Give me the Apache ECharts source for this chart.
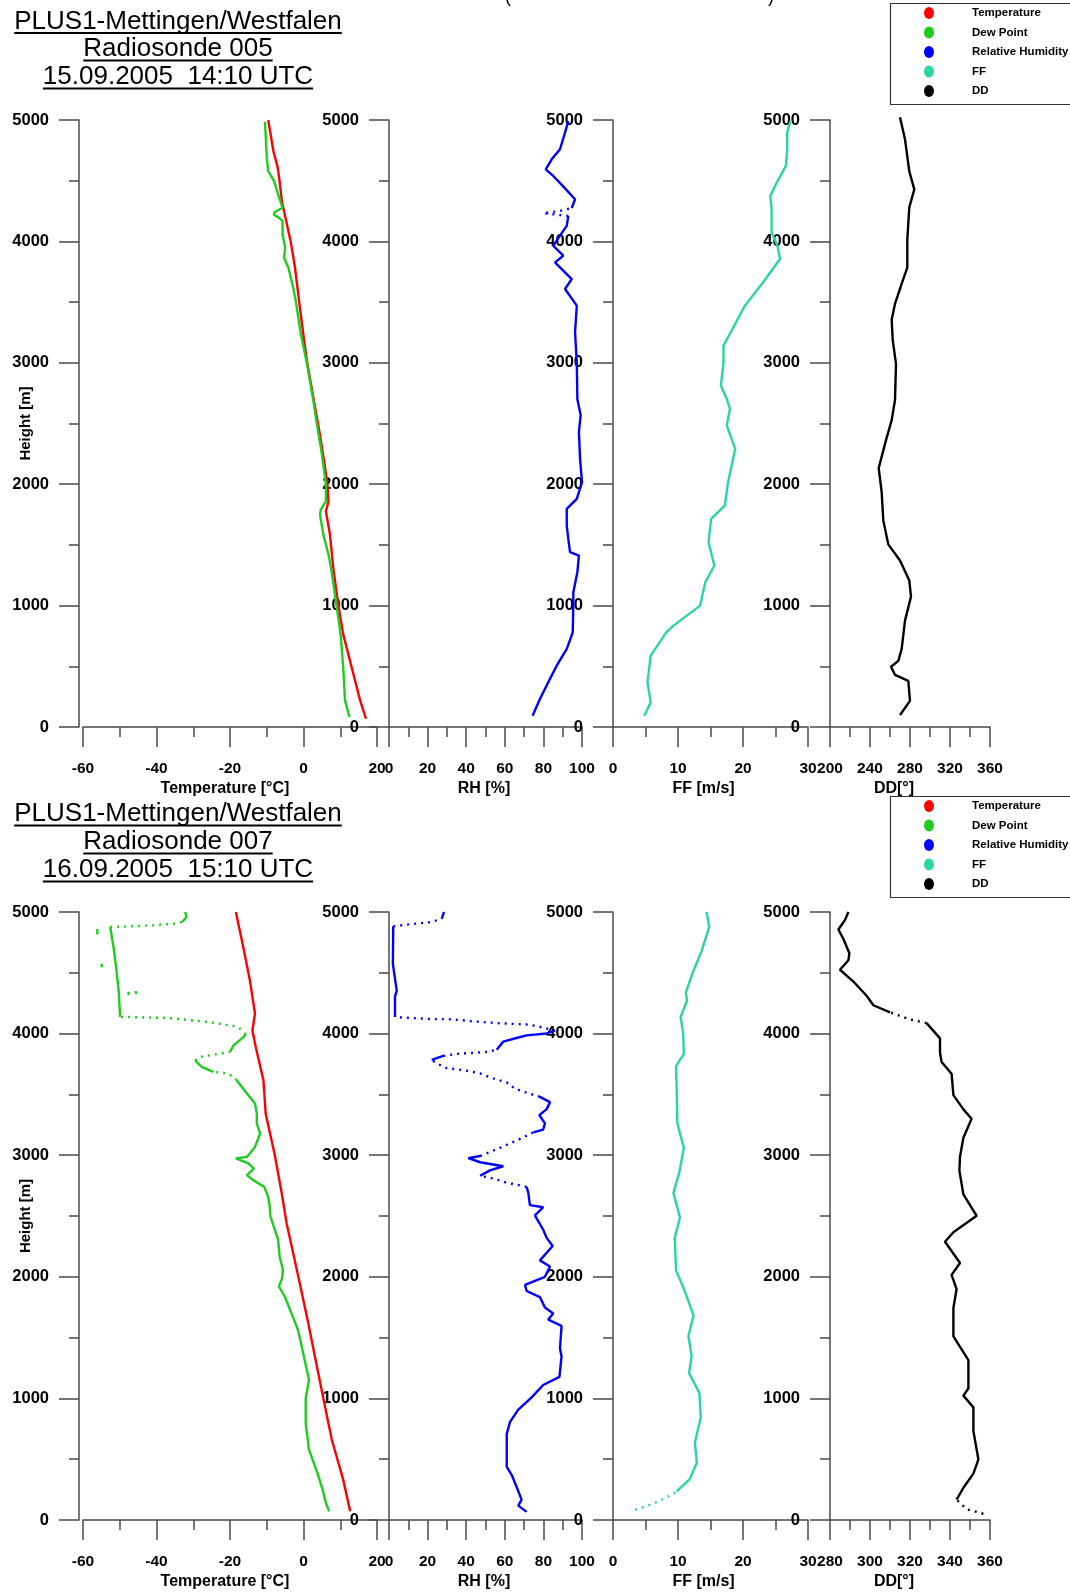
<!DOCTYPE html>
<html><head><meta charset="utf-8">
<script src="https://cdn.jsdelivr.net/npm/echarts@6/dist/echarts.min.js"></script>
<style>html,body{margin:0;padding:0;background:#fff}#c{width:1070px;height:1592px}</style>
</head><body><div id="c"></div>
<script>
// ---------------- DATA ----------------
// Panel 1 : Radiosonde 005, 15.09.2005 14:10 UTC   ([value, height m])
const titles1 = ['PLUS1-Mettingen/Westfalen', 'Radiosonde 005', '15.09.2005  14:10 UTC'];
const temp1 = [[17.0,68],[15.4,219],[13.1,492],[10.8,765],[9.5,1000],[8.1,1311],[7.2,1585],[6.1,1776],[6.8,1858],[6.5,2000],[5.9,2131],[4.5,2404],[2.9,2678],[1.0,3000],[-0.05,3233],[-1.2,3508],[-2.3,3783],[-3.5,4000],[-5.9,4332],[-6.4,4470],[-7.0,4607],[-8.2,4745],[-9.6,5000]];
const dew1 = [[12.5,82],[11.3,219],[10.8,492],[10.1,765],[9.0,1000],[7.5,1311],[6.8,1421],[5.4,1585],[4.5,1749],[4.7,1790],[6.1,1858],[6.1,2000],[4.9,2268],[3.4,2541],[2.7,2684],[0.9,3000],[-0.7,3233],[-2.1,3508],[-2.8,3618],[-4.1,3783],[-5.3,3865],[-5.0,3948],[-5.7,4058],[-5.7,4168],[-6.9,4200],[-8.0,4218],[-7.9,4240],[-5.7,4277],[-6.9,4387],[-8.0,4497],[-9.6,4580],[-10.0,4690],[-10.3,4882],[-10.5,4986]];
const rh1 = [[74.4,93],[78.2,231],[82.5,368],[86.9,505],[92.1,643],[95.2,780],[95.5,1000],[95.5,1110],[97.6,1275],[98.4,1412],[93.8,1440],[92.9,1549],[92.1,1659],[92.1,1797],[97.3,1879],[100,2016],[99,2209],[98.4,2429],[99.3,2570],[97.6,2700],[97.3,3000],[96.4,3251],[97.3,3471],[91.2,3608],[94.7,3690],[86,3827],[90.3,3882],[85.1,3964],[88.6,4047],[92.1,4128],[92.9,4210],null,[94.7,4275],[96.4,4347],[90.0,4457],[85.1,4539],[81.2,4594],[84.3,4676],[88.6,4759],[91.2,4896],[92.9,4992]];
const rh1Sparse = [[92.9,4210],[80,4232],[88.6,4251],[94.7,4275]];
const ff1 = [[4.8,93],[5.8,203],[5.3,368],[5.8,588],[8.2,780],[9.3,835],[13.4,1000],[14.2,1192],[15.6,1330],[14.7,1522],[15.1,1714],[17.2,1824],[17.7,2016],[18.8,2291],[17.5,2484],[18.0,2621],[17.5,2703],[16.6,2811],[17.0,3003],[17.0,3141],[19.2,3361],[20.3,3471],[23.1,3663],[25.7,3855],[25.3,3964],[24.4,4074],[24.4,4265],[24.2,4375],[25.2,4485],[26.6,4622],[26.8,4759],[26.8,4896],[27.3,4992]];
const dd1 = [[270,99],[280,215],[278.3,380],[265,430],[261,496],[268.3,545],[271.7,645],[275,876],[281,1074],[279.3,1206],[270,1371],[258.3,1504],[253.3,1702],[251.7,1933],[248.7,2132],[256,2363],[261.7,2528],[265,2693],[266,2991],[262.7,3189],[261.7,3354],[265,3486],[271.7,3652],[277.3,3784],[277.3,4015],[279.3,4280],[284.3,4428],[279.3,4577],[275,4841],[270,5023]];

// Panel 2 : Radiosonde 007, 16.09.2005 15:10 UTC
const titles2 = ['PLUS1-Mettingen/Westfalen', 'Radiosonde 007', '16.09.2005  15:10 UTC'];
const temp2 = [[12.7,71],[10.8,332],[7.7,660],[5.4,1000],[3.1,1345],[1.3,1619],[-1.4,2000],[-4.6,2441],[-6.0,2700],[-7.8,3000],[-10.3,3342],[-10.9,3616],[-13.0,3890],[-13.9,4027],[-13.2,4164],[-14.6,4438],[-16.4,4712],[-18.4,5000]];
const dew2 = [[7.0,71],[6.1,140],[5.2,249],[3.8,386],[1.5,578],[0.6,797],[0.6,1000],[1.5,1153],[0.1,1345],[-1.5,1564],[-3.3,1701],[-5.1,1838],[-6.7,1921],[-5.8,1989],[-5.6,2058],[-6.5,2167],[-6.9,2304],[-9.0,2496],[-9.2,2578],[-9.6,2658],[-10.7,2740],[-13.7,2795],[-15.4,2836],[-13.5,2890],[-15.0,2932],[-18.4,2973],[-15.4,2986],[-13.2,3068],[-11.8,3178],[-12.7,3260],[-12.7,3342],[-13.2,3425],[-15.4,3507],[-18.2,3616],null,
  [-24.5,3685],[-27.7,3726],[-29.1,3767],[-29.5,3780],null,
  [-20.0,3849],[-19.1,3901],[-16.3,3973],[-15.7,3995],null,
  [-49.9,4137],[-50.3,4356],[-51.0,4548],[-51.7,4712],[-52.6,4877],null,
  [-33.0,4918],[-31.8,4959],[-32.2,5000],null,
  [-56.1,4815],[-56.1,4860],null,[-54.9,4545],[-54.9,4575],null,[-47.6,4315],[-47.6,4345],null,[-45.6,4325],[-45.6,4350]];
const dew2Sparse = [[-18.2,3616],[-19.1,3650],[-21.8,3677],[-24.5,3685],null,
  [-29.5,3780],[-28.2,3808],[-25.5,3822],[-22.7,3836],[-20.0,3849],null,
  [-15.7,3995],[-17.3,4041],[-19.1,4063],[-24.5,4088],[-27.7,4101],[-30.9,4110],[-35.4,4125],[-38.2,4130],[-43.6,4132],[-47.6,4137],[-49.9,4137],null,
  [-52.6,4877],[-45.4,4885],[-40.9,4890],[-35.4,4904],[-33.0,4918]];
const rh2 = [[71.3,67],[67,118],[68.7,168],[66.2,269],[63.6,370],[61,437],[61,572],[61,706],[62.7,807],[67,908],[73.9,1009],[79.9,1110],[88.3,1177],[89.4,1345],[88.6,1412],[89.4,1597],[82.5,1648],[85.1,1698],[80.8,1748],[78.2,1833],[71.3,1883],[70.5,1933],[80.8,2000],[83.4,2085],[78.2,2135],[84.8,2253],[81.7,2320],[79.9,2387],[75.6,2505],[79.9,2572],[73,2589],[72.2,2690],[71.3,2740],null,
  [47.2,2831],[52.3,2875],[59.2,2909],[47.2,2942],[41.1,2976],[47.2,2993],null,
  [74.8,3188],[79.9,3211],[80.8,3262],[77.9,3329],[81.7,3379],[83.4,3436],[78.2,3480],null,
  [22.1,3783],[28.1,3816],null,
  [55.8,3867],[59.2,3934],[67,3968],[71.3,3985],[81.7,4001],[86,4025],null,
  [3.1,4136],[3.1,4153],[3.1,4304],[4.0,4354],[2.0,4573],[2.2,4882],null,
  [27.3,4943],[28.5,5000]];
const rh2Sparse = [[71.3,2740],[61,2774],[54,2808],[47.2,2831],null,
  [47.2,2993],[57.5,3060],[67,3127],[74.8,3188],null,
  [78.2,3480],[71.3,3514],[65.3,3547],[61,3598],[54,3631],[47.2,3672],[38.5,3700],[29.9,3716],[25.5,3749],[22.1,3783],null,
  [28.1,3816],[35.1,3833],[42,3840],[50.6,3850],[55.8,3867],null,
  [86,4025],[81.7,4042],[76.5,4062],[71.3,4075],[66.2,4079],[57.5,4085],[50.6,4092],[42.8,4102],[36.8,4112],[29.9,4119],[22.1,4119],[10.9,4129],[3.1,4136],null,
  [2.2,4882],[12.6,4902],[21.2,4916],[27.3,4943]];
const ff2 = [[9.8,235],[11.8,336],[12.9,470],[12.6,639],[13.5,841],[13.3,1042],[11.7,1210],[12.1,1345],[11.6,1513],[12.4,1681],[10.8,1917],[9.7,2051],[9.5,2320],[10.3,2488],[9.3,2690],[10.2,2858],[10.9,3060],[9.9,3262],[9.8,3531],[9.7,3732],[10.9,3833],[10.8,4001],[10.4,4136],[11.4,4270],[11.2,4338],[12.3,4506],[13.6,4674],[14.8,4876],[14.4,5000]];
const ff2Sparse = [[3.4,84],[6.2,134],[8.8,202],[9.8,235]];
const dd2 = [[343.3,167],[346.7,265],[351.7,381],[354.2,498],[351.7,732],[351.7,926],[346.7,1023],[349.2,1082],[349.2,1315],[341.7,1510],[341.7,1743],[343.3,1899],[340.8,2016],[345,2113],[337.5,2288],[341.7,2366],[353.3,2502],[346.7,2677],[344.7,2872],[345,2988],[346.7,3144],[350.8,3300],[346.7,3377],[341.7,3494],[340.8,3669],[335.8,3767],[335,3844],[335,3961],[328.3,4086],null,
  [310,4175],[301.7,4233],[298.3,4311],[291.7,4428],[285,4525],[289.2,4603],[289.7,4661],[286.7,4778],[284.2,4856],[287.5,4934],[289.2,5000]];
const dd2Sparse = [[356.7,51],[348.3,89],[343.3,167],null,[328.3,4086],[320,4117],[310,4175]];

// axis ranges / ticks
const heightRange = {min: 0, max: 5000, interval: 1000};
const tempRange = {min: -60, max: 20, interval: 20};
const rhRange = {min: 0, max: 100, interval: 20};
const ffRange = {min: 0, max: 30, interval: 10};
const dd1Range = {min: 200, max: 360, interval: 40};
const dd2Range = {min: 280, max: 360, interval: 20};
const legendNames = ['Temperature', 'Dew Point', 'Relative Humidity', 'FF', 'DD'];
const axisNames = ['Temperature [°C]', 'RH [%]', 'FF [m/s]', 'DD[°]'];

// ---------------- CHART ----------------
const FONT = '"Liberation Sans", Arial, Helvetica, sans-serif';
const AX = '#4a4a4a';
const COLORS = {Temperature:'#ff0000', 'Dew Point':'#1fcc1f', 'Relative Humidity':'#0000ff', FF:'#2bd4a4', DD:'#000000'};

const panels = [
  {top: 120, height: 607, titleY: [21.5, 49, 77], legendTop: 3, ranges: [tempRange, rhRange, ffRange, dd1Range],
   titles: titles1,
   data: [[['Temperature', temp1, false], ['Dew Point', dew1, false]], [['Relative Humidity', rh1, false], ['Relative Humidity', rh1Sparse, true]], [['FF', ff1, false]], [['DD', dd1, false]]]},
  {top: 912, height: 608, titleY: [814, 842, 870], legendTop: 796, ranges: [tempRange, rhRange, ffRange, dd2Range],
   titles: titles2,
   data: [[['Temperature', temp2, false], ['Dew Point', dew2, false], ['Dew Point', dew2Sparse, true]], [['Relative Humidity', rh2, false], ['Relative Humidity', rh2Sparse, true]], [['FF', ff2, false], ['FF', ff2Sparse, true]], [['DD', dd2, false], ['DD', dd2Sparse, true]]]}
];
const cols = [{left: 83, width: 294, namePad: [0, 10, 0, 0]}, {left: 389, width: 193, namePad: [0, 3, 0, 0]}, {left: 613, width: 195, namePad: [0, 14, 0, 0]}, {left: 830, width: 160, namePad: [0, 32, 0, 0]}];

function splitSegments(arr) {
  const out = []; let cur = [];
  arr.forEach(p => { if (p === null) { if (cur.length) out.push(cur); cur = []; } else cur.push(p); });
  if (cur.length) out.push(cur);
  return out;
}

const grid = [], xAxis = [], yAxis = [], series = [], graphic = [], legend = [];
const xLabelStyle = {fontSize: 15.5, fontWeight: 'bold', color: '#000', fontFamily: FONT, formatter: v => String(v)};
const yLabelStyle = {fontSize: 16.5, fontWeight: 'bold', color: '#000', fontFamily: FONT, formatter: v => String(v)};
const measure = document.createElement('canvas').getContext('2d');

panels.forEach((p, pi) => {
  cols.forEach((c, ci) => {
    const gi = pi * 4 + ci;
    grid.push({left: c.left, top: p.top, width: c.width, height: p.height, containLabel: false, outerBoundsMode: 'none'});
    const r = p.ranges[ci];
    xAxis.push({gridIndex: gi, type: 'value', min: r.min, max: r.max, interval: r.interval, position: 'bottom',
      axisLine: {show: true, onZero: false, lineStyle: {color: AX, width: 1.5}},
      axisTick: {show: true, length: 20, lineStyle: {color: AX, width: 1.5}},
      minorTick: {show: true, splitNumber: 2, length: 10, lineStyle: {color: AX, width: 1.5}},
      splitLine: {show: false}, minorSplitLine: {show: false},
      axisLabel: Object.assign({margin: 34, showMinLabel: true, showMaxLabel: true, hideOverlap: false}, xLabelStyle),
      name: axisNames[ci], nameLocation: 'middle', nameGap: 54, nameMoveOverlap: false,
      nameTextStyle: {fontSize: 16, fontWeight: 'bold', color: '#000', fontFamily: FONT, padding: c.namePad}});
    yAxis.push({gridIndex: gi, type: 'value', min: heightRange.min, max: heightRange.max, interval: heightRange.interval,
      offset: ci === 0 ? 4 : 0,
      axisLine: {show: true, onZero: false, lineStyle: {color: AX, width: 1.5}},
      axisTick: {show: true, length: 20, lineStyle: {color: AX, width: 1.5}},
      minorTick: {show: true, splitNumber: 2, length: 10, lineStyle: {color: AX, width: 1.5}},
      splitLine: {show: false}, minorSplitLine: {show: false},
      axisLabel: Object.assign({margin: 30, showMinLabel: true, showMaxLabel: true, hideOverlap: false}, yLabelStyle),
      name: ci === 0 ? 'Height [m]' : '', nameLocation: 'middle', nameGap: 46, nameMoveOverlap: false,
      nameTextStyle: {fontSize: 15, fontWeight: 'bold', color: '#000', fontFamily: FONT}});
    p.data[ci].forEach(([name, arr, sparse]) => {
      splitSegments(arr).forEach(seg => {
        series.push({type: 'line', name: name, xAxisIndex: gi, yAxisIndex: gi, data: seg,
          showSymbol: false, symbol: 'none', silent: true, animation: false, clip: false,
          color: COLORS[name], z: 3,
          lineStyle: {color: COLORS[name], width: 2.4, type: sparse ? [2, 5] : 'solid'}});
      });
    });
  });

  // titles with underline
  const tfont = '26px ' + FONT;
  measure.font = tfont;
  p.titles.forEach((t, k) => {
    const y = p.titleY[k];
    const w = measure.measureText(t).width;
    graphic.push({type: 'text', x: 178, y: y, style: {text: t, font: tfont, fill: '#000', align: 'center', verticalAlign: 'middle', textAlign: 'center', textVerticalAlign: 'middle'}});
    graphic.push({type: 'line', shape: {x1: 178 - w / 2, y1: y + 11.5, x2: 178 + w / 2, y2: y + 11.5}, style: {stroke: '#000', lineWidth: 1.8}});
  });

  // legend box + legend
  graphic.push({type: 'rect', shape: {x: 890.5, y: p.legendTop + 0.5, width: 190, height: 101}, style: {fill: 'none', stroke: '#333', lineWidth: 1.2}});
  legend.push({orient: 'vertical', left: 919, top: p.legendTop - 1, itemWidth: 10, itemHeight: 12, itemGap: 7.5,
    icon: 'path://M5,0 A5,6 0 1,1 5,12 A5,6 0 1,1 5,0 Z', selectedMode: false,
    textStyle: {fontSize: 11.5, fontWeight: 'bold', color: '#000', fontFamily: FONT, lineHeight: 12, padding: [0, 0, 0, 33]},
    data: legendNames.map(n => ({name: n, itemStyle: {color: COLORS[n]}}))});
});

// clipped characters at the very top edge
graphic.push({type: 'text', x: 508, y: 6, style: {text: '(', font: '18px ' + FONT, fill: '#000', align: 'center', verticalAlign: 'bottom', textAlign: 'center', textVerticalAlign: 'bottom'}});
graphic.push({type: 'text', x: 771, y: 6, style: {text: ')', font: '18px ' + FONT, fill: '#000', align: 'center', verticalAlign: 'bottom', textAlign: 'center', textVerticalAlign: 'bottom'}});

const chart = echarts.init(document.getElementById('c'), null, {renderer: 'canvas', width: 1070, height: 1592});
chart.setOption({backgroundColor: '#ffffff', animation: false, grid, xAxis, yAxis, series, legend, graphic});
</script></body></html>
